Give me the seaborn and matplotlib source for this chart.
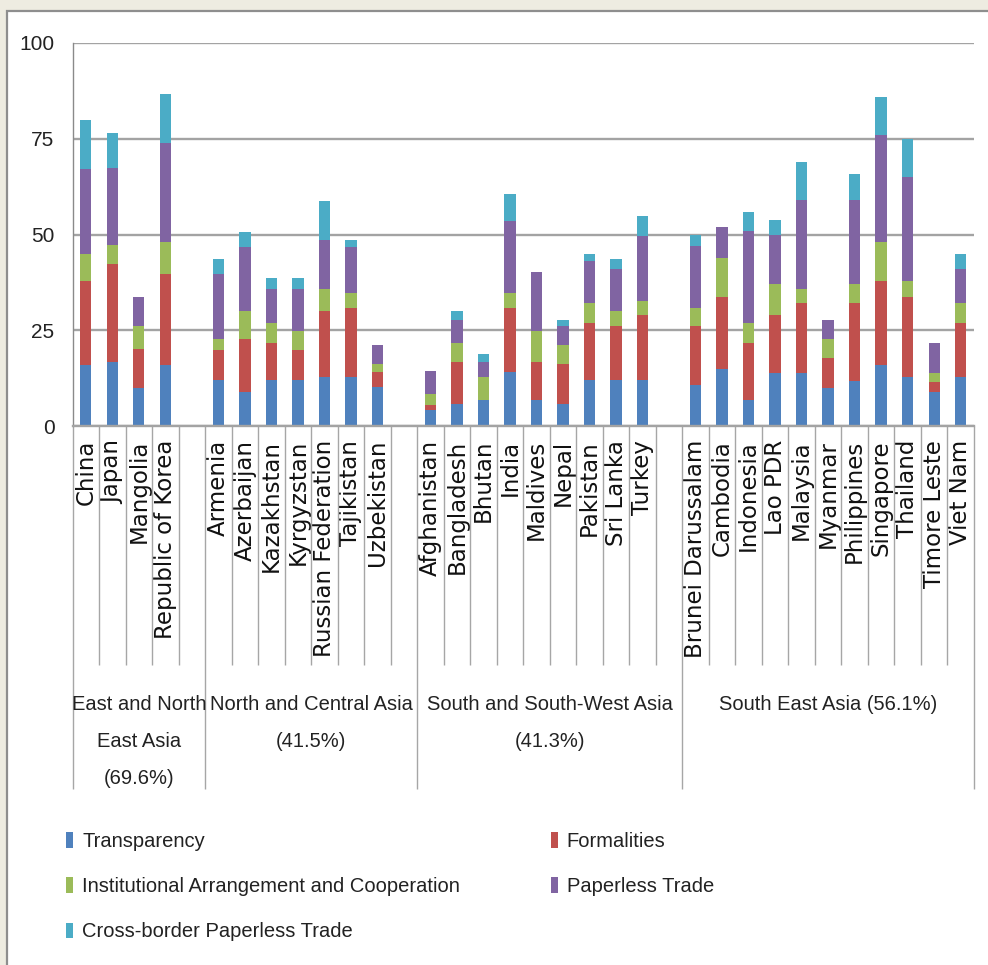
import numpy as np
import matplotlib
matplotlib.use("Agg")
import matplotlib.pyplot as plt
import seaborn as sns
from matplotlib import font_manager
from matplotlib.patches import Rectangle, Patch
from matplotlib.transforms import blended_transform_factory

# ---- data -------------------------------------------------------------
region_labels = ["East and North\nEast Asia\n(69.6%)",
                 "North and Central Asia\n(41.5%)",
                 "South and South-West Asia\n(41.3%)",
                 "South East Asia (56.1%)"]

east_ne = ["China", "Japan", "Mangolia", "Republic of Korea"]
north_central = ["Armenia", "Azerbaijan", "Kazakhstan", "Kyrgyzstan",
                 "Russian Federation", "Tajikistan", "Uzbekistan"]
south_sw = ["Afghanistan", "Bangladesh", "Bhutan", "India", "Maldives",
            "Nepal", "Pakistan", "Sri Lanka", "Turkey"]
south_east = ["Brunei Darussalam", "Cambodia", "Indonesia", "Lao PDR",
              "Malaysia", "Myanmar", "Philippines", "Singapore", "Thailand",
              "Timore Leste", "Viet Nam"]

series_names = ["Transparency", "Formalities",
                "Institutional Arrangement and Cooperation",
                "Paperless Trade", "Cross-border Paperless Trade"]

transparency = [16.0, 16.7, 9.9, 16.0,
                11.9, 9.0, 11.9, 11.9, 12.9, 12.9, 10.1,
                4.2, 5.8, 6.8, 14.0, 6.8, 5.8, 11.9, 11.9, 11.9,
                10.7, 15.0, 6.8, 13.9, 13.9, 9.9, 11.8, 16.0, 12.8, 8.9, 12.8]
formalities = [21.8, 25.7, 10.1, 23.8,
               8.0, 13.8, 9.9, 8.0, 17.0, 18.0, 3.9,
               1.3, 11.0, 0.0, 16.9, 10.0, 10.3, 15.1, 14.1, 17.0,
               15.3, 18.8, 14.9, 15.0, 18.1, 7.9, 20.2, 21.8, 21.0, 2.5, 14.2]
institutional = [7.1, 4.9, 6.0, 8.2,
                 2.9, 7.1, 5.2, 5.0, 6.0, 3.9, 2.1,
                 2.8, 5.0, 6.1, 3.9, 8.1, 5.0, 5.0, 3.9, 3.8,
                 4.9, 10.0, 5.3, 8.1, 3.9, 5.0, 5.0, 10.2, 4.0, 2.5, 5.0]
paperless = [22.1, 20.0, 7.8, 26.0,
             17.0, 16.9, 8.9, 11.0, 12.6, 12.0, 5.0,
             6.0, 5.9, 3.9, 18.8, 15.3, 4.9, 11.1, 11.0, 17.0,
             16.1, 8.2, 23.9, 12.8, 23.2, 5.0, 22.1, 27.9, 27.1, 7.8, 8.9]
cross_border = [13.0, 9.2, 0.0, 12.8,
                3.9, 3.9, 2.8, 2.8, 10.3, 1.8, 0.0,
                0.0, 2.2, 2.1, 7.1, 0.0, 1.7, 1.7, 2.8, 5.0,
                2.9, 0.0, 5.0, 3.9, 9.9, 0.0, 6.7, 9.9, 10.1, 0.0, 3.9]

colors = ["#4F81BD", "#C0504D", "#9BBB59", "#8064A2", "#4BACC6"]

# ---- category slots (one empty slot closes each of the first 3 regions) --
groups = [east_ne, north_central, south_sw, south_east]
slots, is_country = [], []
for gi, g in enumerate(groups):
    slots += g
    is_country += [True] * len(g)
    if gi < len(groups) - 1:
        slots.append(" " * (gi + 1))
        is_country.append(False)

stack = np.array([transparency, formalities, institutional, paperless, cross_border])
cum = np.cumsum(stack, axis=0)

def to_slots(vals):
    out, it = [], iter(vals)
    for c in is_country:
        out.append(next(it) if c else 0.0)
    return out

# ---- fonts --------------------------------------------------------------
names = {f.name for f in font_manager.fontManager.ttflist}
narrow = "Liberation Sans Narrow" if "Liberation Sans Narrow" in names else "Liberation Sans"

sns.set_style("white")
plt.rcParams["font.family"] = ["DejaVu Sans"]

W, H = 988, 965
fig = plt.figure(figsize=(W / 100, H / 100), dpi=100)
fig.patch.set_facecolor("#EEECE1")

def fx(px):
    return px / W

def fy(py):
    return 1 - py / H

# white chart area with a grey frame on the visible edges
fig.patches.append(Rectangle((fx(7), -0.05), 1.1, fy(11) + 0.05,
                             transform=fig.transFigure, facecolor="white",
                             edgecolor="#8E8E8E", linewidth=1.6, zorder=-5))

ax = fig.add_axes([fx(72.5), fy(426), fx(974) - fx(72.5), fy(43) - fy(426)])
ax.set_facecolor("none")
ax.set_zorder(2)

# stacked bars: draw cumulative totals from the top series downward
for k in reversed(range(len(series_names))):
    sns.barplot(x=slots, y=to_slots(cum[k]), order=slots, color=colors[k],
                width=0.43, saturation=1, errorbar=None, linewidth=0, ax=ax)

ax.set_xlim(-0.5, len(slots) - 0.5)
ax.set_ylim(0, 100)
ax.set_xlabel("")
ax.set_ylabel("")

grid_c = "#A3A3A3"
ax.set_yticks([0, 25, 50, 75, 100])
ax.set_yticklabels(["0", "25", "50", "75", "100"], family=narrow, fontsize=15)
ax.yaxis.grid(True, color=grid_c, linewidth=1.7)
ax.set_axisbelow(True)
for s in ["top", "right"]:
    ax.spines[s].set_visible(False)
ax.spines["left"].set_color("#8A8A8A")
ax.spines["left"].set_linewidth(1.0)
ax.spines["bottom"].set_color(grid_c)
ax.spines["bottom"].set_linewidth(1.7)
ax.tick_params(axis="y", length=5, width=1.0, color="#8A8A8A", pad=8,
               labelcolor="#222222")

ax.set_xticks(range(len(slots)))
ax.set_xticklabels([s if c else "" for s, c in zip(slots, is_country)],
                   rotation=90, va="top", ha="center", fontsize=16.5,
                   color="#111111")
ax.tick_params(axis="x", length=0, pad=10)

# category separators below the axis
trans = blended_transform_factory(ax.transData, fig.transFigure)
sep_c = "#A6A6A6"
group_edges = [-0.5]
n = 0
for gi, g in enumerate(groups):
    n += len(g) + (1 if gi < len(groups) - 1 else 0)
    group_edges.append(n - 0.5)
for b in np.arange(-0.5, len(slots), 1.0):
    is_group = any(abs(b - e) < 1e-6 for e in group_edges)
    y_end = fy(789) if is_group else fy(665)
    ax.plot([b, b], [fy(426), y_end], transform=trans, color=sep_c,
            linewidth=1.0, clip_on=False, solid_capstyle="butt")

# region labels centred under their slot ranges
for gi, lab in enumerate(region_labels):
    center = (group_edges[gi] + group_edges[gi + 1]) / 2
    ax.text(center, fy(695), lab, transform=trans, ha="center", va="top",
            family=narrow, fontsize=14.5, linespacing=2.2, color="#222222")

# legend
handles = [Patch(facecolor=c, edgecolor="none") for c in colors]
order = [0, 2, 4, 1, 3]
fig.legend([handles[i] for i in order], [series_names[i] for i in order],
           ncol=2, loc="upper left", bbox_to_anchor=(fx(66), fy(832)),
           frameon=False, prop={"family": narrow, "size": 14.5},
           handlelength=0.35, handleheight=0.8, handletextpad=0.45,
           labelspacing=1.3, columnspacing=4.5, borderaxespad=0,
           borderpad=0, labelcolor="#222222")

fig.savefig("out.png", dpi=100, facecolor=fig.get_facecolor())
